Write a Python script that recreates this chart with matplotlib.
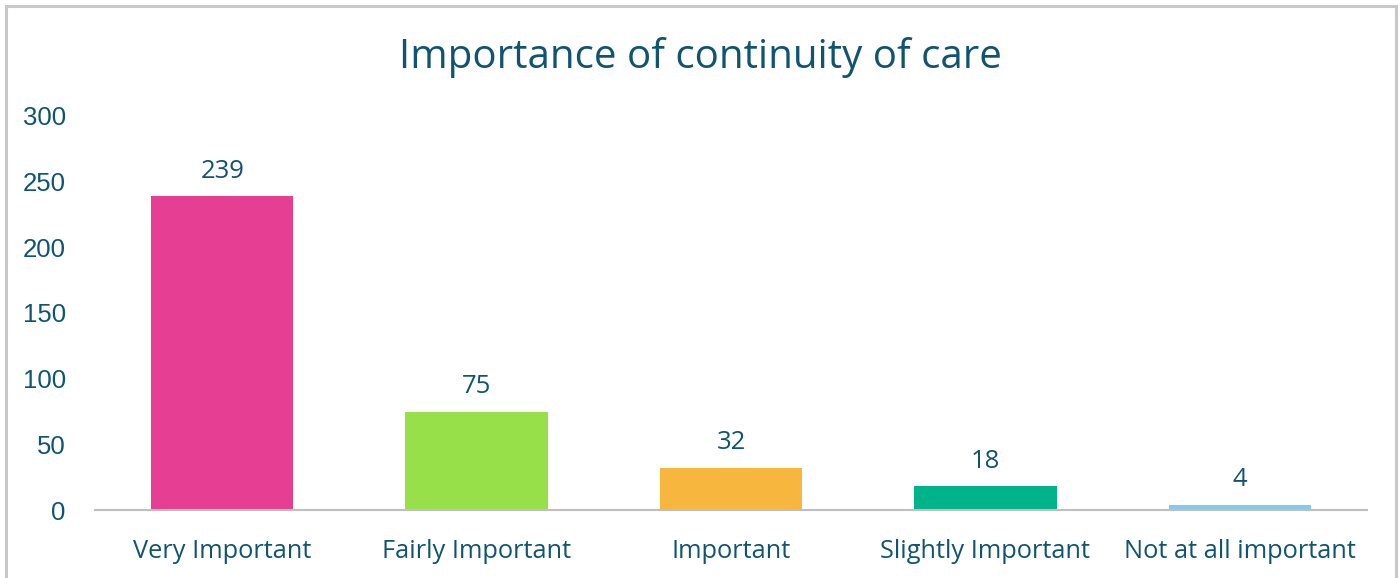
import matplotlib
matplotlib.use("Agg")
import matplotlib.pyplot as plt
from matplotlib.patches import Rectangle

categories = ["Very Important", "Fairly Important", "Important", "Slightly Important", "Not at all important"]
values = [239, 75, 32, 18, 4]
colors = ["#E63E93", "#98E04A", "#F7B73F", "#00B48A", "#7FCCEB"]
yticks = [0, 50, 100, 150, 200, 250, 300]

txt = "#0F5470"
fig = plt.figure(figsize=(14, 5.78), dpi=100)
fig.patches.append(Rectangle((6/1400, -0.01), 1390/1400, 1 - 6/578 + 0.01, transform=fig.transFigure,
                             fill=False, edgecolor="#C8C8C8", linewidth=2.2))
ax = fig.add_axes([95/1400, 68/578, 1272/1400, 394/578])
x = range(len(categories))
ax.bar(x, values, width=0.56, color=colors, zorder=2)
ax.set_xlim(-0.5, len(categories) - 0.5)
ax.set_ylim(0, 300)
ax.set_yticks(yticks)
ax.set_yticklabels([str(t) for t in yticks], fontfamily="Liberation Sans", fontsize=18.5, color=txt)
ax.set_xticks(list(x))
ax.set_xticklabels(categories, fontfamily="Open Sans", fontsize=18.3, color=txt)
ax.tick_params(axis="both", length=0)
ax.tick_params(axis="x", pad=21)
ax.tick_params(axis="y", pad=21)
for s in ["top", "right", "left"]:
    ax.spines[s].set_visible(False)
ax.spines["bottom"].set_color("#BFBFBF")
ax.spines["bottom"].set_linewidth(1.5)
for i, v in enumerate(values):
    ax.annotate(str(v), (i, v), xytext=(0, 9), textcoords="offset points", ha="center", va="bottom",
                fontfamily="Open Sans", fontsize=18.5, color=txt)
fig.text(0.5, 1 - 58/578, "Importance of continuity of care", ha="center", va="center",
         fontfamily="Open Sans", fontsize=29, color=txt)
fig.savefig("out.png", dpi=100)
